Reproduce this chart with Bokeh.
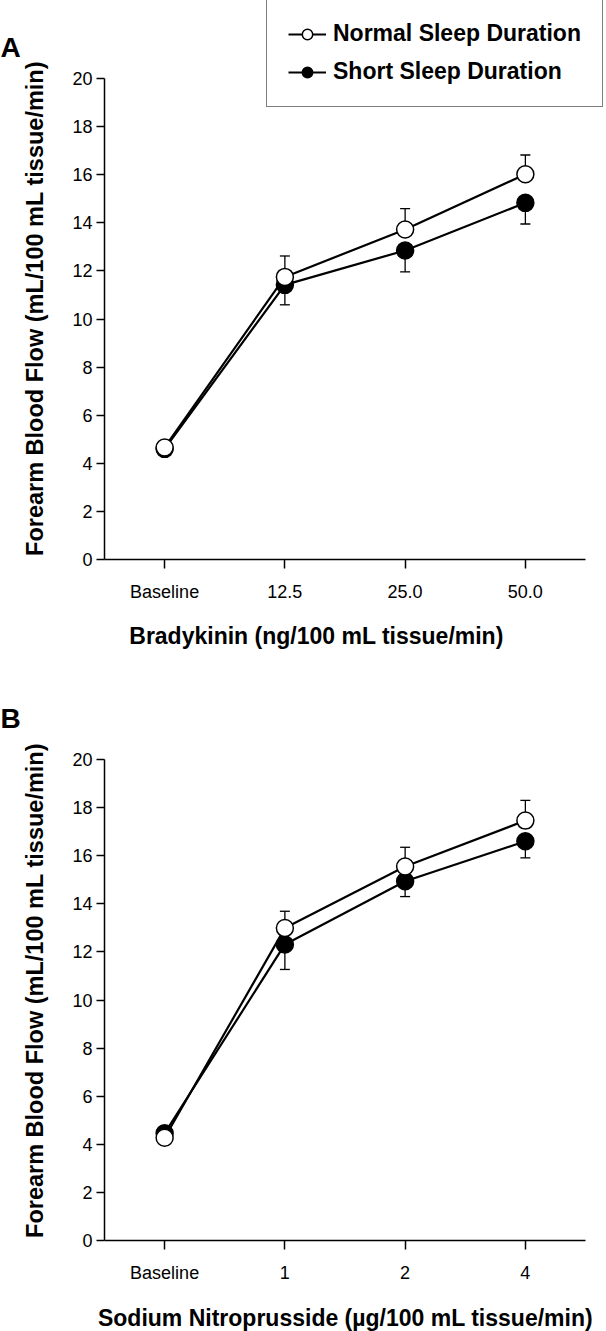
import math
from bokeh.plotting import figure
from bokeh.models import (ColumnDataSource, Legend, LegendItem, FixedTicker,
                          Range1d, Label)
from bokeh.layouts import column, row
from bokeh.embed import file_html
from bokeh.resources import INLINE

# ---------------- data ----------------
categories_a = ["Baseline", "12.5", "25.0", "50.0"]
normal_a = [4.66, 11.75, 13.72, 16.02]
normal_a_err = [0.15, 0.87, 0.87, 0.80]
short_a = [4.60, 11.42, 12.85, 14.83]
short_a_err = [0.15, 0.83, 0.89, 0.88]

categories_b = ["Baseline", "1", "2", "4"]
normal_b = [4.27, 12.99, 15.55, 17.46]
normal_b_err = [0.15, 0.70, 0.80, 0.84]
short_b = [4.46, 12.31, 14.94, 16.60]
short_b_err = [0.15, 1.04, 0.64, 0.69]

y_ticks = [0, 2, 4, 6, 8, 10, 12, 14, 16, 18, 20]

FONT = "Liberation Sans"
Y_TITLE = "Forearm Blood Flow (mL/100 mL tissue/min)"
X_TITLE_A = "Bradykinin (ng/100 mL tissue/min)"
X_TITLE_B = "Sodium Nitroprusside (\u00b5g/100 mL tissue/min)"

PX_X = 120.25   # pixels per category step
PX_Y = 24.05    # pixels per y unit
BOTTOM = 46     # border under each plot frame


def blank(width, height, bottom=0):
    f = figure(width=width, height=height, output_backend="svg",
               toolbar_location=None, x_range=Range1d(0, width),
               y_range=Range1d(0, height - bottom),
               min_border_left=0, min_border_right=0,
               min_border_top=0, min_border_bottom=bottom)
    f.axis.visible = False
    f.xgrid.grid_line_color = None
    f.ygrid.grid_line_color = None
    f.outline_line_color = None
    return f


def text(f, x, y, s, size, angle=0.0, align="center"):
    f.add_layout(Label(x=x, y=y, text=s, angle=angle, text_font=FONT,
                       text_font_style="bold", text_font_size=size,
                       text_align=align, text_baseline="middle",
                       text_color="black"))


def main_panel(cats, normal, normal_err, short, short_err, height, with_legend):
    frame_w = 502
    frame_h = height - BOTTOM
    p = figure(width=554, height=height, output_backend="svg",
               toolbar_location=None,
               x_range=Range1d(-0.5, -0.5 + frame_w / PX_X),
               y_range=Range1d(0, frame_h / PX_Y),
               min_border_left=52, min_border_right=0,
               min_border_top=0, min_border_bottom=BOTTOM)
    p.outline_line_color = None
    p.xgrid.grid_line_color = None
    p.ygrid.grid_line_color = None

    for ax in (p.xaxis[0], p.yaxis[0]):
        ax.axis_line_width = 1.5
        ax.axis_line_color = "black"
        ax.major_tick_line_width = 1.5
        ax.major_tick_line_color = "black"
        ax.major_tick_in = 0
        ax.minor_tick_line_color = None
        ax.major_label_text_font = FONT
        ax.major_label_text_font_size = "18px"
        ax.major_label_text_color = "black"

    xs = list(range(len(cats)))
    p.xaxis.ticker = FixedTicker(ticks=xs)
    p.xaxis.major_label_overrides = {i: c for i, c in zip(xs, cats)}
    p.xaxis.bounds = (-0.5, len(cats) - 0.5)
    p.xaxis.major_tick_out = 9
    p.xaxis.major_label_standoff = 13
    p.yaxis.ticker = FixedTicker(ticks=y_ticks)
    p.yaxis.bounds = (0, 20)
    p.yaxis.major_tick_out = 8
    p.yaxis.major_label_standoff = 4

    s_short = ColumnDataSource(dict(x=xs, y=short,
                                    lo=[v - e for v, e in zip(short, short_err)]))
    s_norm = ColumnDataSource(dict(x=xs, y=normal,
                                   hi=[v + e for v, e in zip(normal, normal_err)]))

    # error bars: short downwards, normal upwards
    for src, end in ((s_short, "lo"), (s_norm, "hi")):
        p.segment(x0="x", y0="y", x1="x", y1=end, source=src,
                  line_color="black", line_width=1.3)
        p.scatter(x="x", y=end, source=src, marker="dash", size=10,
                  line_color="black", line_width=1.3)

    l_short = p.line(x="x", y="y", source=s_short, line_color="black", line_width=2.2)
    l_norm = p.line(x="x", y="y", source=s_norm, line_color="black", line_width=2.2)
    m_short = p.scatter(x="x", y="y", source=s_short, marker="circle", size=17,
                        fill_color="black", line_color="black", line_width=1.5)
    m_norm = p.scatter(x="x", y="y", source=s_norm, marker="circle", size=17,
                       fill_color="white", line_color="black", line_width=1.5)

    if with_legend:
        legend = Legend(items=[
            LegendItem(label="Normal Sleep Duration", renderers=[l_norm, m_norm]),
            LegendItem(label="Short Sleep Duration", renderers=[l_short, m_short]),
        ], location=(162, frame_h - 107))
        legend.label_text_font = FONT
        legend.label_text_font_style = "bold"
        legend.label_text_font_size = "23px"
        legend.label_text_color = "black"
        legend.border_line_color = "black"
        legend.border_line_width = 1.5
        legend.background_fill_color = "white"
        legend.background_fill_alpha = 1.0
        legend.padding = 21
        legend.spacing = 11
        legend.margin = 0
        legend.glyph_width = 38
        legend.glyph_height = 26
        legend.label_height = 26
        legend.label_standoff = 7
        p.add_layout(legend, "center")
    return p


# ---------------- panel A (frame: page y 0 .. 559) ----------------
hA = 605
fA = hA - BOTTOM
side_a = blank(52, hA, BOTTOM)
text(side_a, 0, fA - 47, "A", "28px", align="left")
text(side_a, 34, fA - 308, Y_TITLE, "23.5px", angle=math.pi / 2)
main_a = main_panel(categories_a, normal_a, normal_a_err, short_a, short_a_err,
                    hA, True)
foot_a = blank(606, 75)
text(foot_a, 316, 75 - 30, X_TITLE_A, "23px")

# ---------------- panel B (frame: page y 680 .. 1240) ----------------
hB = 606
fB = hB - BOTTOM
side_b = blank(52, hB, BOTTOM)
text(side_b, 0, fB - 38, "B", "28px", align="left")
text(side_b, 34, fB - 310, Y_TITLE, "23.5px", angle=math.pi / 2)
main_b = main_panel(categories_b, normal_b, normal_b_err, short_b, short_b_err,
                    hB, False)
foot_b = blank(606, 45)
text(foot_b, 345, 45 - 31, X_TITLE_B, "23px")

layout = column(row(side_a, main_a, spacing=0), foot_a,
                row(side_b, main_b, spacing=0), foot_b, spacing=0)
open("out.html", "w").write(file_html(layout, INLINE))
